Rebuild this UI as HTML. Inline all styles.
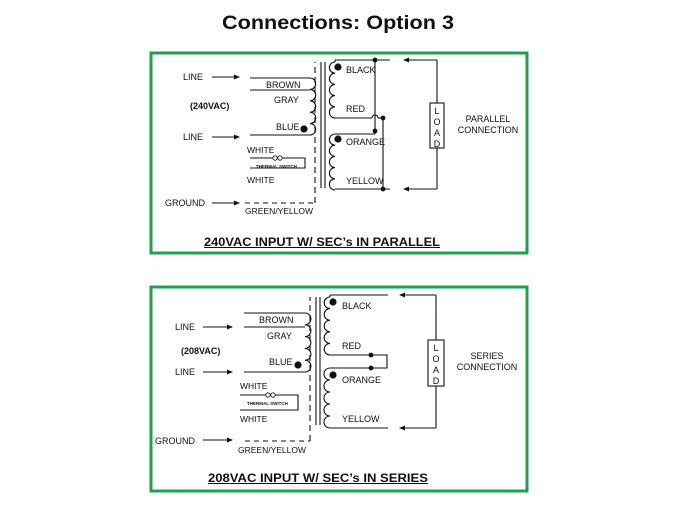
<!DOCTYPE html>
<html><head><meta charset="utf-8"><style>
html,body{margin:0;padding:0;background:#fff;}
svg{display:block;}
text{font-family:"Liberation Sans",Arial,sans-serif;fill:#111;}
</style></head><body>
<svg width="675" height="506" viewBox="0 0 675 506" xmlns="http://www.w3.org/2000/svg">
<defs>
<marker id="ar" markerWidth="6" markerHeight="6" refX="5" refY="3" orient="auto" markerUnits="userSpaceOnUse"><path d="M0,0.5 L6,3 L0,5.5 Z" fill="#111"/></marker>
</defs>
<text x="338" y="29" text-anchor="middle" font-size="19" font-weight="bold" textLength="232" lengthAdjust="spacingAndGlyphs">Connections: Option 3</text>

<rect x="151" y="53" width="376" height="200" fill="none" stroke="#22a050" stroke-width="3"/>
<rect x="151" y="287" width="376" height="204" fill="none" stroke="#22a050" stroke-width="3"/>

<g stroke="#111" stroke-width="1.1" fill="none">
<line x1="212" y1="77" x2="239" y2="77" marker-end="url(#ar)"/>
<line x1="212" y1="137" x2="239" y2="137" marker-end="url(#ar)"/>
<line x1="212" y1="203" x2="239" y2="203" marker-end="url(#ar)"/>
<line x1="250" y1="78" x2="310" y2="78"/>
<line x1="250" y1="90" x2="310" y2="90"/>
<line x1="250" y1="135" x2="310" y2="135"/>
<path d="M310,78 a5.7,5.7 0 0 1 0,11.4 a5.7,5.7 0 0 1 0,11.4 a5.7,5.7 0 0 1 0,11.4 a5.7,5.7 0 0 1 0,11.4 a5.7,5.7 0 0 1 0,11.4"/>
<polyline points="250,158 305,158 305,168 250,168"/>
<line x1="245" y1="203" x2="315" y2="203" stroke-dasharray="5,4"/>
<line x1="315" y1="203" x2="315" y2="62" stroke-dasharray="6,4"/>
<line x1="321" y1="62" x2="321" y2="188"/>
<line x1="325" y1="62" x2="325" y2="188"/>
<path d="M335,62 a5.6,5.6 0 0 0 0,11.2 a5.6,5.6 0 0 0 0,11.2 a5.6,5.6 0 0 0 0,11.2 a5.6,5.6 0 0 0 0,11.2 a5.6,5.6 0 0 0 0,11.2"/>
<path d="M335,134 a5.6,5.6 0 0 0 0,11.2 a5.6,5.6 0 0 0 0,11.2 a5.6,5.6 0 0 0 0,11.2 a5.6,5.6 0 0 0 0,11.2 a5.6,5.6 0 0 0 0,11.2"/>
<line x1="335" y1="60" x2="390" y2="60"/><line x1="335" y1="60" x2="335" y2="62"/>
<line x1="335" y1="118" x2="372" y2="118"/>
<path d="M372,118 a3,3 0 0 1 6,0"/>
<line x1="378" y1="118" x2="383" y2="118"/>
<line x1="375" y1="60" x2="375" y2="131"/>
<line x1="375" y1="131" x2="375" y2="134"/><line x1="335" y1="134" x2="375" y2="134"/>
<line x1="383" y1="118" x2="383" y2="189"/>
<line x1="335" y1="189" x2="390" y2="189"/>
<line x1="437" y1="60" x2="404" y2="60" marker-end="url(#ar)"/>
<line x1="437" y1="189" x2="404" y2="189" marker-end="url(#ar)"/>
<line x1="437" y1="60" x2="437" y2="189"/>
<rect x="430" y="103" width="14" height="45" fill="#fff"/>

<line x1="203" y1="327" x2="232" y2="327" marker-end="url(#ar)"/>
<line x1="203" y1="372" x2="232" y2="372" marker-end="url(#ar)"/>
<line x1="203" y1="440" x2="232" y2="440" marker-end="url(#ar)"/>
<line x1="244" y1="313" x2="305" y2="313"/>
<line x1="244" y1="327" x2="305" y2="327"/>
<line x1="244" y1="372" x2="305" y2="372"/>
<path d="M305,313 a5.9,5.9 0 0 1 0,11.8 a5.9,5.9 0 0 1 0,11.8 a5.9,5.9 0 0 1 0,11.8 a5.9,5.9 0 0 1 0,11.8 a5.9,5.9 0 0 1 0,11.8"/>
<polyline points="240,395 298,395 298,410 240,410"/>
<line x1="245" y1="441" x2="310" y2="441" stroke-dasharray="5,4"/>
<line x1="310" y1="441" x2="310" y2="297" stroke-dasharray="6,4"/>
<line x1="316" y1="297" x2="316" y2="425"/>
<line x1="320" y1="297" x2="320" y2="425"/>
<path d="M330,297 a5.8,5.8 0 0 0 0,11.6 a5.8,5.8 0 0 0 0,11.6 a5.8,5.8 0 0 0 0,11.6 a5.8,5.8 0 0 0 0,11.6 a5.8,5.8 0 0 0 0,11.6"/>
<path d="M330,368 a6,6 0 0 0 0,12 a6,6 0 0 0 0,12 a6,6 0 0 0 0,12 a6,6 0 0 0 0,12 a6,6 0 0 0 0,12"/>
<line x1="330" y1="295" x2="388" y2="295"/><line x1="330" y1="295" x2="330" y2="297"/>
<polyline points="330,355 387,355 387,368 330,368"/>
<line x1="330" y1="428" x2="388" y2="428"/>
<line x1="436" y1="295" x2="400" y2="295" marker-end="url(#ar)"/>
<line x1="436" y1="428" x2="400" y2="428" marker-end="url(#ar)"/>
<line x1="436" y1="295" x2="436" y2="428"/>
<rect x="428" y="340" width="16" height="46" fill="#fff"/>
</g>

<g fill="#111">
<circle cx="304" cy="129" r="3.6"/>
<circle cx="338" cy="67" r="3.6"/>
<circle cx="338" cy="139" r="3.6"/>
<circle cx="375" cy="60" r="2.4"/><circle cx="383" cy="118" r="2.4"/><circle cx="375" cy="131" r="2.4"/><circle cx="383" cy="189" r="2.4"/>
<circle cx="298" cy="365" r="3.6"/>
<circle cx="333" cy="302" r="3.6"/>
<circle cx="333" cy="375" r="3.6"/>
<circle cx="371" cy="355" r="2.4"/><circle cx="371" cy="368" r="2.4"/>
</g>
<g fill="#fff" stroke="#111" stroke-width="0.8">
<circle cx="275" cy="158" r="2.2"/><circle cx="280" cy="158" r="2.2"/>
<circle cx="268" cy="395" r="2.2"/><circle cx="273" cy="395" r="2.2"/>
</g>

<g font-size="9">
<text x="183" y="80">LINE</text>
<text x="183" y="140">LINE</text>
<text x="165" y="206">GROUND</text>
<text x="266" y="88">BROWN</text>
<text x="274" y="103">GRAY</text>
<text x="190" y="109" font-weight="bold">(240VAC)</text>
<text x="276" y="130">BLUE</text>
<text x="247" y="153" font-size="8.5">WHITE</text>
<text x="256" y="168" font-size="4.5" font-weight="bold">THERMAL SWITCH</text>
<text x="247" y="183" font-size="8.5">WHITE</text>
<text x="245" y="214" font-size="8.5">GREEN/YELLOW</text>
<text x="346" y="73">BLACK</text>
<text x="346" y="112">RED</text>
<text x="346" y="145">ORANGE</text>
<text x="346" y="184">YELLOW</text>
<text x="437" y="114" text-anchor="middle">L</text>
<text x="437" y="125" text-anchor="middle">O</text>
<text x="437" y="136" text-anchor="middle">A</text>
<text x="437" y="147" text-anchor="middle">D</text>
<text x="488" y="122" text-anchor="middle">PARALLEL</text>
<text x="488" y="133" text-anchor="middle">CONNECTION</text>
<text x="204" y="246" font-size="12" font-weight="bold" textLength="236" lengthAdjust="spacingAndGlyphs">240VAC INPUT  W/ SEC’s IN PARALLEL</text>

<text x="175" y="330">LINE</text>
<text x="175" y="375">LINE</text>
<text x="155" y="444">GROUND</text>
<text x="259" y="323">BROWN</text>
<text x="267" y="339">GRAY</text>
<text x="181" y="354" font-weight="bold">(208VAC)</text>
<text x="269" y="365">BLUE</text>
<text x="240" y="389" font-size="8.5">WHITE</text>
<text x="247" y="405" font-size="4.5" font-weight="bold">THERMAL SWITCH</text>
<text x="240" y="422" font-size="8.5">WHITE</text>
<text x="238" y="453" font-size="8.5">GREEN/YELLOW</text>
<text x="342" y="309">BLACK</text>
<text x="342" y="349">RED</text>
<text x="342" y="383">ORANGE</text>
<text x="342" y="422">YELLOW</text>
<text x="436" y="351" text-anchor="middle">L</text>
<text x="436" y="362" text-anchor="middle">O</text>
<text x="436" y="373" text-anchor="middle">A</text>
<text x="436" y="384" text-anchor="middle">D</text>
<text x="487" y="359" text-anchor="middle">SERIES</text>
<text x="487" y="370" text-anchor="middle">CONNECTION</text>
<text x="208" y="482" font-size="12" font-weight="bold" textLength="220" lengthAdjust="spacingAndGlyphs">208VAC INPUT  W/ SEC’s IN SERIES</text>
</g>
<line x1="204" y1="247.5" x2="440" y2="247.5" stroke="#111" stroke-width="1"/>
<line x1="208" y1="483.5" x2="428" y2="483.5" stroke="#111" stroke-width="1"/>
</svg>
</body></html>
